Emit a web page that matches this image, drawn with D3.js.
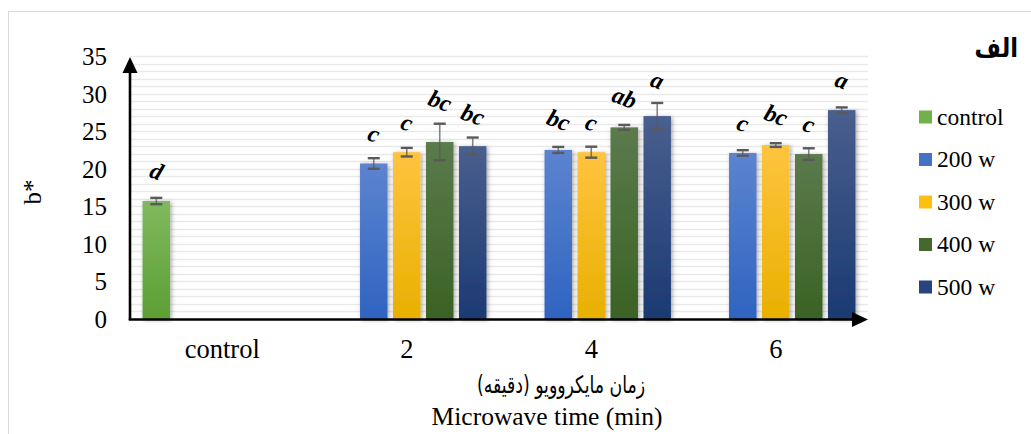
<!DOCTYPE html>
<html>
<head>
<meta charset="utf-8">
<script src="https://cdn.jsdelivr.net/npm/d3@7/dist/d3.min.js"></script>
<style>
html,body{margin:0;padding:0;background:#fff;}
svg{display:block;}
</style>
</head>
<body>
<svg id="chart" width="1031" height="434"></svg>
<script>
// ---- data ----
const categories = ["control", "2", "4", "6"];
const series = ["control", "200 w", "300 w", "400 w", "500 w"];
// values per series, aligned with categories (null = no bar)
const controlValues = [15.7, null, null, null];
const w200Values = [null, 20.7, 22.5, 22.1];
const w300Values = [null, 22.2, 22.2, 23.15];
const w400Values = [null, 23.55, 25.5, 21.95];
const w500Values = [null, 23.0, 27.0, 27.8];
const controlErr = [0.42, null, null, null];
const w200Err = [null, 0.7, 0.4, 0.37];
const w300Err = [null, 0.57, 0.73, 0.25];
const w400Err = [null, 2.44, 0.33, 0.77];
const w500Err = [null, 1.15, 1.75, 0.36];
const controlLetters = ["d", null, null, null];
const w200Letters = [null, "c", "bc", "c"];
const w300Letters = [null, "c", "c", "bc"];
const w400Letters = [null, "bc", "ab", "c"];
const w500Letters = [null, "bc", "a", "a"];
const yTicks = [0, 5, 10, 15, 20, 25, 30, 35];
const yTitle = "b*";
const xTitleFa = "زمان مایکروویو (دقیقه)";
const xTitleEn = "Microwave time (min)";
const panelTitle = "الف";

const valuesBySeries = [controlValues, w200Values, w300Values, w400Values, w500Values];
const errBySeries = [controlErr, w200Err, w300Err, w400Err, w500Err];
const lettersBySeries = [controlLetters, w200Letters, w300Letters, w400Letters, w500Letters];
const colorsTop = ["#80b95f", "#5c84cf", "#ffc43f", "#5b7b4c", "#4a5f8e"];
const colorsBottom = ["#5c9f33", "#2f64c1", "#e8b000", "#3a6224", "#1b3a72"];
const legendColors = ["#72b04a", "#4473c6", "#fdc010", "#45682d", "#27457c"];

const svg = d3.select("#chart");
const defs = svg.append("defs");
const serif = "Liberation Serif, Times New Roman, serif";

// frame
svg.append("rect").attr("x", 8.5).attr("y", 11.5).attr("width", 1100).attr("height", 600)
  .attr("fill", "none").attr("stroke", "#d9d9d9").attr("stroke-width", 1);

const plotLeft = 130, plotRight = 868, y0px = 319, y35px = 56;
const x0 = d3.scaleBand().domain(categories).range([plotLeft, plotRight]).padding(0);
const x1 = d3.scaleBand().domain(series).range([0, x0.bandwidth()]).paddingInner(0.167).paddingOuter(0.38);
const y = d3.scaleLinear().domain([0, 35]).range([y0px, y35px]);

// gradients
series.forEach((s, i) => {
  const g = defs.append("linearGradient").attr("id", "grad" + i)
    .attr("x1", 0).attr("y1", 0).attr("x2", 0).attr("y2", 1);
  g.append("stop").attr("offset", "0%").attr("stop-color", colorsTop[i]);
  g.append("stop").attr("offset", "100%").attr("stop-color", colorsBottom[i]);
});
const f = defs.append("filter").attr("id", "shadow").attr("x", "-30%").attr("y", "-10%").attr("width", "160%").attr("height", "120%");
f.append("feDropShadow").attr("dx", 1.5).attr("dy", 1).attr("stdDeviation", 2).attr("flood-color", "#000").attr("flood-opacity", 0.35);

// gridlines every 1 unit
const gridVals = d3.range(1, 36);
svg.append("g").selectAll("line").data(gridVals).join("line")
  .attr("x1", plotLeft).attr("x2", plotRight)
  .attr("y1", d => Math.round(y(d)) + 0.5).attr("y2", d => Math.round(y(d)) + 0.5)
  .attr("stroke", "#e9e9e9").attr("stroke-width", 1.3);

// y axis tick labels via d3 axis
const yAxis = d3.axisLeft(y).tickValues(yTicks).tickSize(0).tickPadding(0);
const yg = svg.append("g").attr("transform", "translate(107,0)").call(yAxis);
yg.select(".domain").remove();
yg.selectAll("text").attr("font-family", serif)
  .attr("font-size", 25).attr("fill", "#000").attr("dy", "0.34em");

// x axis tick labels
const xAxis = d3.axisBottom(x0).tickSize(0).tickPadding(0);
const xg = svg.append("g").attr("transform", "translate(0,358)").call(xAxis);
xg.select(".domain").remove();
xg.selectAll("text").attr("font-family", serif)
  .attr("font-size", 26.5).attr("fill", "#000").attr("dy", 0);

// bars
const barData = [];
series.forEach((s, i) => {
  categories.forEach((c, j) => {
    const v = valuesBySeries[i][j];
    if (v != null) barData.push({s, i, c, v, e: errBySeries[i][j], l: lettersBySeries[i][j]});
  });
});
const bars = svg.append("g");
bars.selectAll("rect").data(barData).join("rect")
  .attr("x", d => x0(d.c) + x1(d.s))
  .attr("y", d => y(d.v))
  .attr("width", x1.bandwidth())
  .attr("height", d => y(0) - y(d.v))
  .attr("fill", d => `url(#grad${d.i})`)
  .attr("filter", "url(#shadow)");

// error bars
const eg = svg.append("g").attr("stroke", "#5a5a5a");
barData.forEach(d => {
  const cx = x0(d.c) + x1(d.s) + x1.bandwidth() / 2;
  const yt = y(d.v + d.e), yb = y(d.v - d.e);
  eg.append("line").attr("x1", cx).attr("x2", cx).attr("y1", yt).attr("y2", yb)
    .attr("stroke-width", 1.6).attr("stroke-opacity", 0.75);
  [yt, yb].forEach(yy => eg.append("line").attr("x1", cx - 6).attr("x2", cx + 6)
    .attr("y1", yy).attr("y2", yy).attr("stroke-width", 2.4));
});

// significance letters
svg.append("g").selectAll("text").data(barData).join("text")
  .attr("transform", d => {
    const cx = x0(d.c) + x1(d.s) + x1.bandwidth() / 2;
    const cy = Math.min(y(d.v) - 29, y(d.v + d.e) - 22);
    return `translate(${cx},${cy}) rotate(20)`;
  })
  .attr("text-anchor", "middle").attr("dy", "0.3em")
  .attr("font-family", serif)
  .attr("font-style", "italic").attr("font-weight", "bold")
  .attr("font-size", 24).attr("fill", "#000")
  .text(d => d.l);

// axes lines with arrows
svg.append("line").attr("x1", plotLeft).attr("x2", plotLeft).attr("y1", y(0) + 1).attr("y2", 70)
  .attr("stroke", "#000").attr("stroke-width", 2.6);
svg.append("path").attr("d", `M${plotLeft},57 L${plotLeft - 7.5},73 L${plotLeft + 7.5},73 Z`).attr("fill", "#000");
svg.append("line").attr("x1", plotLeft - 1.3).attr("x2", 855).attr("y1", y(0) + 0.5).attr("y2", y(0) + 0.5)
  .attr("stroke", "#000").attr("stroke-width", 2.6);
svg.append("path").attr("d", `M868,${y(0) + 0.5} L852,${y(0) - 7} L852,${y(0) + 8} Z`).attr("fill", "#000");

// axis titles
svg.append("text").attr("transform", "translate(41,192) rotate(-90)")
  .attr("text-anchor", "middle")
  .attr("font-family", serif).attr("font-size", 25)
  .text(yTitle);
svg.append("text").attr("transform", "translate(561,393) scale(0.72,1)").attr("text-anchor", "middle")
  .attr("font-family", "DejaVu Sans, sans-serif").attr("font-size", 24).attr("direction", "rtl")
  .text(xTitleFa);
svg.append("text").attr("x", 547).attr("y", 425).attr("text-anchor", "middle")
  .attr("font-family", serif).attr("font-size", 25.5)
  .text(xTitleEn);

// panel title
svg.append("text").attr("transform", "translate(1018,57) scale(0.95,1.1)").attr("text-anchor", "start").attr("direction", "rtl")
  .attr("font-family", "DejaVu Sans, sans-serif").attr("font-weight", "bold").attr("font-size", 24)
  .text(panelTitle);

// legend
const lg = svg.append("g").selectAll("g").data(series).join("g")
  .attr("transform", (d, i) => `translate(919,${117 + i * 42.5})`);
lg.append("rect").attr("x", 0).attr("y", -6.5).attr("width", 13).attr("height", 13)
  .attr("fill", (d, i) => legendColors[i]);
lg.append("text").attr("x", 18).attr("y", 0).attr("dy", "0.33em")
  .attr("font-family", serif).attr("font-size", 23.5)
  .text(d => d);
</script>
</body>
</html>
